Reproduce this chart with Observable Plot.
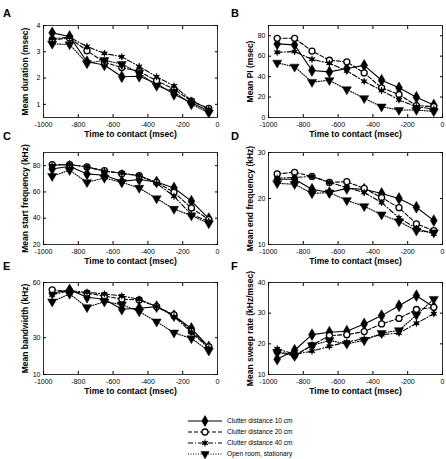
<!DOCTYPE html>
<html><head><meta charset="utf-8">
<script src="https://cdn.jsdelivr.net/npm/d3@7"></script>
<script src="https://cdn.jsdelivr.net/npm/@observablehq/plot@0.6"></script>
<style>
body{margin:0;background:#fff;font-family:"Liberation Sans",Arial,sans-serif}
#root{position:relative;width:446px;height:459px;overflow:hidden;background:#fff}
.panel{position:absolute}
.letter{position:absolute;font-weight:bold;font-size:11px;line-height:1}
.panel svg [aria-label="x-axis label"] text,.panel svg [aria-label="y-axis label"] text{font-weight:bold;font-size:8.5px}
</style></head><body><div id="root"></div>
<script>
const times = [-950,-850,-750,-650,-550,-450,-350,-250,-150,-50];
const seriesNames = ["Clutter distance 10 cm","Clutter distance 20 cm","Clutter distance 40 cm","Open room, stationary"];
const xTicks = [-1000,-800,-600,-400,-200,0];
const xLabel = "Time to contact (msec)";
const panelLetters = ["A","B","C","D","E","F"];
const yLabels = ["Mean duration (msec)","Mean PI (msec)","Mean start frequency (kHz)","Mean end frequency (kHz)","Mean bandwidth (kHz)","Mean sweep rate (kHz/msec)"];
const yDomains = [[0.5,4],[0,90],[20,90],[10,30],[10,60],[10,40]];
const yTicks = [[1,2,3,4],[0,20,40,60,80],[20,40,60,80],[10,20,30],[10,30,60],[10,20,30,40]];

// A: duration
const dur10 = [3.72,3.58,2.62,2.5,2.05,2.07,1.79,1.38,1.06,0.75];
const dur20 = [3.45,3.52,3.04,2.6,2.4,2.25,1.9,1.58,1.12,0.85];
const dur40 = [3.5,3.55,3.2,2.94,2.81,2.44,2.05,1.7,1.15,0.81];
const durOpen = [3.3,3.28,2.56,2.68,2.53,2.2,1.7,1.48,1.0,0.68];
// B: PI
const pi10 = [72,71,46,44.6,48,51,36.4,29,19.8,12.2];
const pi20 = [77.5,77.5,65,56,54.5,43.6,29,22.5,11.6,10.6];
const pi40 = [63.8,64.5,57,53,45.6,35.4,26.4,17.2,10.5,8.3];
const piOpen = [53.5,49.6,34.7,36.4,27.4,18.8,10.6,7.3,7.3,6];
// C: start frequency
const sf10 = [77.5,79.5,73.7,72.7,68,69.4,67.6,63,53,39.7];
const sf20 = [80.8,80.8,79,76.2,73.9,72.4,67.3,59.7,47.8,39];
const sf40 = [80,81,79,75.7,74.4,72.4,66.5,56.7,42.8,37.7];
const sfOpen = [72,76.5,67.3,70.6,67.3,63,55,47,42,36];
// D: end frequency
const ef10 = [24.2,24.2,22,21.3,22.2,22,21.1,20,18.1,15.2];
const ef20 = [25.35,25.7,24.8,23.5,23.65,22.2,20.2,18,14.5,13];
const ef40 = [24.4,24.6,24.8,23.5,22.4,21.3,19.1,15.8,13.5,12.3];
const efOpen = [23.3,23.1,21.1,21.3,19.6,18.3,16.5,15,13,12.6];
// E: bandwidth
const bw10 = [54.2,56,52,50.9,45.5,46,46.9,42,35,25];
const bw20 = [56,55,54.2,52.7,50.9,50.5,46.9,42.4,33.5,25];
const bw40 = [53.3,55.6,54.7,53.8,52.7,50.9,46.9,41.5,33,24.2];
const bwOpen = [49.6,53.8,46.5,49.6,48,44.2,38.7,32.7,29.6,22.9];
// F: sweep rate
const sr10 = [15,17.9,23,23.8,24.1,26.5,29.2,32.4,35.7,32];
const sr20 = [17.5,16.3,19.5,22.7,23,24,26.5,28.3,31.2,31.9];
const sr40 = [18.4,16.6,17.6,19.2,20.6,21.7,23,23.5,26.7,29.8];
const srOpen = [17.3,16,19.5,21.1,20,21.1,23.5,24.4,29.4,34.6];

const panelValues = [
  [dur10,dur20,dur40,durOpen],
  [pi10,pi20,pi40,piOpen],
  [sf10,sf20,sf40,sfOpen],
  [ef10,ef20,ef40,efOpen],
  [bw10,bw20,bw40,bwOpen],
  [sr10,sr20,sr40,srOpen]
];

const dashes = [null,"4,2","5,2,1,2","1,1.5"];
const root = document.getElementById("root");

const colLeft = [0,223], colMarginL = [43,45], colMarginR = [6,4];
const rowFrameTop = [25,152,282];
const letterPos = [[3,8],[231,8],[3,131],[231,131],[3,261],[231,261]];

function seriesMarks(rows, i){
  const opts = {x:"t", y:"v"};
  const m = [Plot.line(rows, {...opts, stroke:"black", strokeWidth:1.1, strokeDasharray: dashes[i]})];
  if(i===0) m.push(Plot.dot(rows,{...opts, symbol:"diamond", r:3.6, fill:"black", stroke:"black", strokeWidth:0.5}));
  if(i===1) m.push(Plot.dot(rows,{...opts, symbol:"circle", r:3.0, fill:"white", stroke:"black", strokeWidth:1.3}));
  if(i===2){ m.push(Plot.dot(rows,{...opts, symbol:"circle", r:2.1, fill:"black"}));
             m.push(Plot.dot(rows,{...opts, symbol:"asterisk", r:3.2, stroke:"black", strokeWidth:1.1})); }
  if(i===3) m.push(Plot.dot(rows,{...opts, symbol:"triangle", rotate:180, r:3.4, fill:"black", stroke:"black", strokeWidth:0.5}));
  return m;
}

panelValues.forEach((vals, p) => {
  const col = p % 2, row = Math.floor(p/2);
  const marks = [];
  vals.forEach((arr, i) => {
    const rows = times.map((t,j) => ({t, v: arr[j], s: seriesNames[i]}));
    marks.push(...seriesMarks(rows, i));
  });
  const tf = d => String(d);
  const chart = Plot.plot({
    width: 223, height: 136,
    marginLeft: colMarginL[col], marginRight: colMarginR[col], marginTop: 14, marginBottom: 30,
    x: {domain: [-1000, 0]},
    y: {domain: yDomains[p]},
    style: {fontFamily: '"Liberation Sans", Arial, sans-serif', fontSize: "7px", color: "black", background: "transparent", overflow: "visible"},
    marks: [
      Plot.frame({stroke: "black", strokeWidth: 0.8}),
      Plot.axisX({anchor: "bottom", ticks: xTicks, tickSize: -3, tickPadding: 8, tickFormat: tf, label: xLabel, labelAnchor: "center", labelOffset: 19, labelArrow: "none"}),
      Plot.axisX({anchor: "top", ticks: xTicks, tickSize: -3, tickFormat: () => "", label: null}),
      Plot.axisY({anchor: "left", ticks: yTicks[p], tickSize: -3, tickPadding: 6, tickFormat: tf, label: yLabels[p], labelAnchor: "center", labelOffset: 22, labelArrow: "none"}),
      Plot.axisY({anchor: "right", ticks: yTicks[p], tickSize: -3, tickFormat: () => "", label: null}),
      ...marks
    ]
  });
  const div = document.createElement("div");
  div.className = "panel";
  div.style.left = colLeft[col] + "px";
  div.style.top = (rowFrameTop[row] - 14) + "px";
  div.appendChild(chart);
  root.appendChild(div);
  const L = document.createElement("div");
  L.className = "letter";
  L.textContent = panelLetters[p];
  L.style.left = letterPos[p][0] + "px";
  L.style.top = letterPos[p][1] + "px";
  root.appendChild(L);
});

// Legend
const legend = d3.create("svg").attr("width", 150).attr("height", 47)
  .style("position","absolute").style("left","180px").style("top","412px")
  .style("font-family",'"Liberation Sans", Arial, sans-serif').style("font-size","6.6px");
seriesNames.forEach((name, i) => {
  const y = 9 + i * 11;
  const g = legend.append("g").attr("transform", `translate(0,${y})`);
  g.append("line").attr("x1", 8).attr("x2", 42).attr("y1", 0).attr("y2", 0)
    .attr("stroke", "black").attr("stroke-width", 1.1).attr("stroke-dasharray", dashes[i]);
  const sym = g.append("g").attr("transform", "translate(25,0)");
  if(i===0) sym.append("path").attr("d", d3.symbol(d3.symbolDiamond, Math.PI*3.6*3.6)()).attr("fill","black");
  if(i===1) sym.append("circle").attr("r",3.0).attr("fill","white").attr("stroke","black").attr("stroke-width",1.3);
  if(i===2){ sym.append("circle").attr("r",2.1).attr("fill","black");
    sym.append("path").attr("d", d3.symbol(d3.symbolAsterisk, Math.PI*3.2*3.2)()).attr("stroke","black").attr("fill","none").attr("stroke-width",1.1); }
  if(i===3) sym.append("path").attr("d", d3.symbol(d3.symbolTriangle, Math.PI*3.4*3.4)()).attr("transform","rotate(180)").attr("fill","black");
  g.append("text").attr("x", 47).attr("y", 0).attr("dy", "0.35em").text(name);
});
root.appendChild(legend.node());
</script></body></html>
